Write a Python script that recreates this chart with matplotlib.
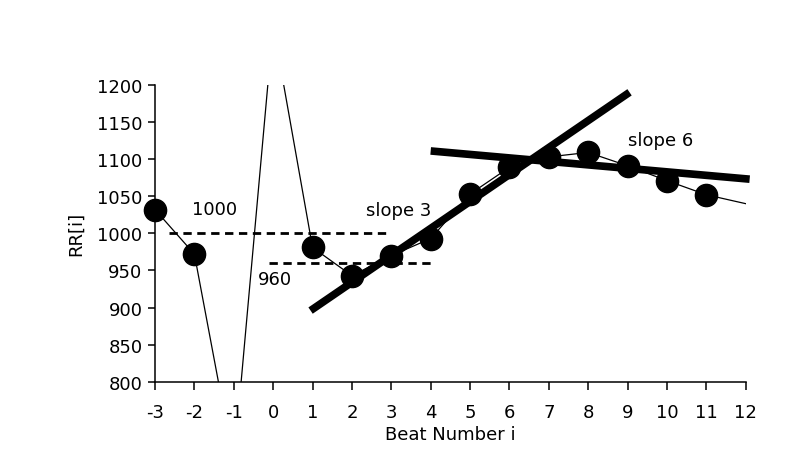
import matplotlib.pyplot as plt

# Beat numbers and RR intervals (ms)
beats = [-3, -2, -1, 0, 1, 2, 3, 4, 5, 6, 7, 8, 9, 10, 11, 12]
rr = [1032, 972, 690, 1280, 981, 943, 970, 993, 1053, 1089, 1103, 1109, 1091, 1071, 1052, 1040]

# beats that get a dot
dot_beats = [-3, -2, 1, 2, 3, 4, 5, 6, 7, 8, 9, 10, 11]

# reference levels
ref_1000_x = [-2.65, 3]
ref_1000_y = [1000, 1000]
ref_960_x = [-0.1, 4]
ref_960_y = [960, 960]

# fitted slopes
slope3_x = [0.95, 9.05]
slope3_y = [896, 1190]
slope6_x = [4, 12.1]
slope6_y = [1111, 1073]

plt.rcParams['font.family'] = ['DejaVu Sans']
plt.rcParams['axes.unicode_minus'] = False

fig = plt.figure(figsize=(7.95, 4.52), dpi=100)
ax = fig.add_axes([0.195, 0.153, 0.743, 0.657])

ax.plot(beats, rr, color='black', lw=0.9)
dot_rr = [rr[beats.index(b)] for b in dot_beats]
ax.plot(dot_beats, dot_rr, 'o', color='black', ms=16, clip_on=False, zorder=3)

ax.plot(ref_1000_x, ref_1000_y, color='black', lw=2, dashes=(3, 2))
ax.plot(ref_960_x, ref_960_y, color='black', lw=2, dashes=(3, 2))

ax.plot(slope3_x, slope3_y, color='black', lw=5.5, solid_capstyle='butt', clip_on=False)
ax.plot(slope6_x, slope6_y, color='black', lw=5.5, solid_capstyle='butt', clip_on=False)

fs = 13
ax.text(-1.5, 1033, '1000', fontsize=fs, ha='center', va='center')
ax.text(0.05, 939, '960', fontsize=fs, ha='center', va='center')
ax.text(2.35, 1031, 'slope 3', fontsize=fs, ha='left', va='center')
ax.text(9.0, 1126, 'slope 6', fontsize=fs, ha='left', va='center')

ax.set_xlim(-3, 12)
ax.set_ylim(800, 1200)
ax.set_xticks(range(-3, 13))
ax.set_yticks(range(800, 1201, 50))
ax.spines['top'].set_visible(False)
ax.spines['right'].set_visible(False)
ax.spines['left'].set_linewidth(1.1)
ax.spines['bottom'].set_linewidth(1.1)
ax.tick_params(axis='x', direction='out', length=6, width=1.1, labelsize=fs, pad=9)
ax.tick_params(axis='y', direction='out', length=5, width=1.1, labelsize=fs, pad=4)

ax.set_xlabel('Beat Number i', fontsize=fs, labelpad=3)
ax.set_ylabel('RR[i]', fontsize=fs, labelpad=9)

fig.savefig('out.png', dpi=100)
